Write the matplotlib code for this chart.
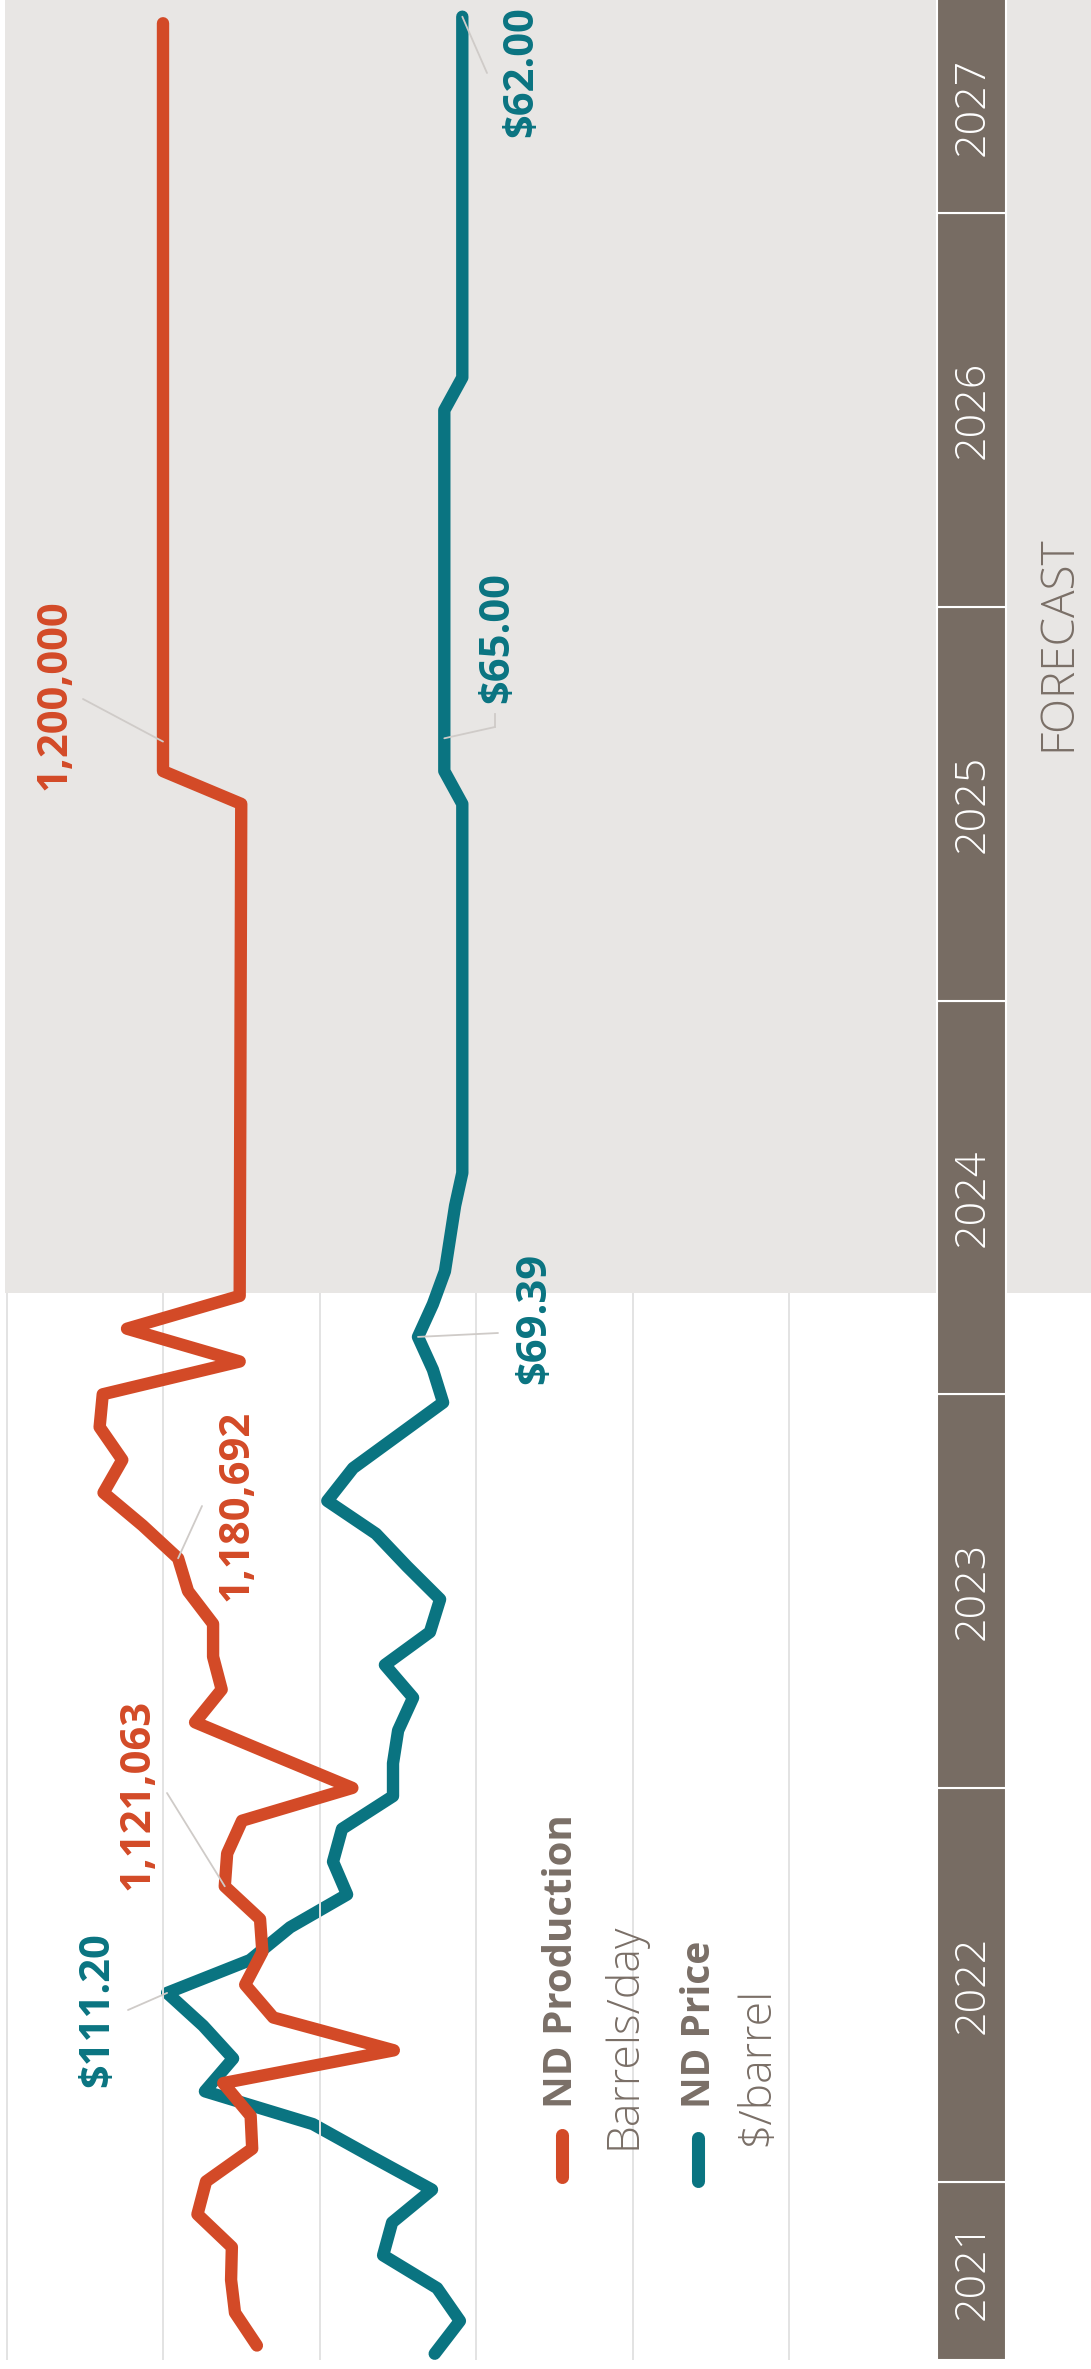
import matplotlib
matplotlib.use('Agg')
import matplotlib.pyplot as plt
from matplotlib.lines import Line2D
from matplotlib.patches import Rectangle

plt.rcParams['font.family'] = ['Open Sans', 'DejaVu Sans']

# time axis: months since Jan 2021 (0 = Jan 2021)
years = [2021, 2022, 2023, 2024, 2025, 2026, 2027]

# ND production, barrels/day (actuals Aug 2021 .. Apr 2024, then forecast)
prod_t = list(range(7, 40)) + [54, 55, 77.8]
prod = [1080000, 1108000, 1113000, 1112000, 1156000, 1145000, 1086000, 1088000,
        1123000, 905000, 1059000, 1095000, 1073000, 1076000, 1121063, 1118000,
        1099000, 958000, 1059000, 1159000, 1125000, 1136000, 1136000, 1168000,
        1180692, 1226000, 1276000, 1252000, 1281000, 1277000, 1102000, 1246000,
        1102000,
        1100000, 1200000, 1200000]

# ND price, $/barrel (monthly averages plotted about a week before month start)
price_t = [m - 0.25 for m in range(7, 44)] + [54, 55, 66, 67, 78]
price = [66.6, 62.4, 66.2, 75.2, 73.7, 67.05, 77.05, 86.9, 104.9, 100.2,
         105.2, 111.20, 97.4, 90.7, 81.2, 83.55, 82.05, 73.55, 73.55, 72.7,
         70.2, 74.9, 67.4, 65.7, 71.2, 76.4, 84.5, 80.2, 72.7, 65.2,
         66.9, 69.39, 66.9, 64.9, 64.05, 63.2, 62.0,
         62.0, 65.0, 65.0, 62.0, 62.0]

grid_vals = [1400000, 1200000, 1000000, 800000, 600000, 400000]
forecast_start = 39.1

ORANGE = '#d34a27'
TEAL = '#0a7481'
BROWN = '#776c63'
TXT = '#7a6f67'
GREY = '#e8e6e4'
LEAD = '#cfcbc8'

W, H = 1091, 2369
fig = plt.figure(figsize=(W / 100, H / 100), dpi=100)
fig.patch.set_facecolor('white')


def fx(x):
    return x / W


def fy(y):
    return 1 - y / H


# base axes = price, twin = production (drawn on top)
ax = fig.add_axes([0, 0, 1, 1])
ax.set_xlim(139.05, -42.78)
t_bot, t_top = 6.284, 78.509
ax.set_ylim(t_bot, t_top)
ax.set_axis_off()
ax2 = ax.twiny()
ax2.set_xlim(1408307, 14058)
ax2.set_ylim(t_bot, t_top)
ax2.set_axis_off()

# forecast shading
ax.axhspan(forecast_start, t_top + 1, xmin=5 / W, xmax=1, color=GREY, lw=0, zorder=0)

# year bar
bar_bot = 6.56
for yr in years:
    t0 = max(12 * (yr - 2021), bar_bot)
    t1 = 12 * (yr - 2020)
    ax.add_patch(Rectangle((937 / W, t0), 69 / W, t1 - t0, transform=ax.get_yaxis_transform(),
                           facecolor=BROWN, edgecolor='white', lw=1.5, zorder=2))
    tc = (t0 + min(t1, t_top)) / 2
    ax.text(972 / W, tc, str(yr), transform=ax.get_yaxis_transform(), rotation=90,
            ha='center', va='center', color='white', fontsize=31, fontweight='light', zorder=3)

fig.text(fx(1058), fy(643), 'FORECAST', rotation=90, ha='center', va='center',
         color=TXT, fontsize=33, fontweight='light')

# price line (below grid)
ax.plot(price, price_t, color=TEAL, lw=8.9, solid_capstyle='round',
        solid_joinstyle='round', zorder=3)

# grid + production line
ax2.vlines(grid_vals, bar_bot, forecast_start, color='#e3e3e3', lw=1.4, zorder=1)
ax2.plot(prod, prod_t, color=ORANGE, lw=8.9, solid_capstyle='round',
         solid_joinstyle='round', zorder=3)

# leaders
lead = dict(arrowstyle='-', color=LEAD, lw=1.3, shrinkA=0, shrinkB=0)
ax2.annotate('', xy=(1200000, 55.9), xytext=(fx(83), fy(699)), textcoords='figure fraction',
             arrowprops=lead, zorder=4)
ax2.annotate('', xy=(1180692, 31), xytext=(fx(202), fy(1506)), textcoords='figure fraction',
             arrowprops=lead, zorder=4)
ax2.annotate('', xy=(1121063, 21), xytext=(fx(167), fy(1793)), textcoords='figure fraction',
             arrowprops=lead, zorder=4)
ax2.annotate('', xy=(111.2, 17.75), xycoords=ax.transData, xytext=(fx(128), fy(2010)),
             textcoords='figure fraction', arrowprops=lead, zorder=4)
ax2.annotate('', xy=(69.39, 37.75), xycoords=ax.transData, xytext=(fx(498), fy(1333)),
             textcoords='figure fraction', arrowprops=lead, zorder=4)
ax2.annotate('', xy=(65.0, 56), xycoords=ax.transData, xytext=(fx(495), fy(727)),
             textcoords='figure fraction', arrowprops=lead, zorder=4)
fig.add_artist(Line2D([fx(495), fx(495)], [fy(727), fy(714)], color=LEAD, lw=1.3))
ax2.annotate('', xy=(62.0, 78), xycoords=ax.transData, xytext=(fx(487), fy(73)),
             textcoords='figure fraction', arrowprops=lead, zorder=4)

# value labels
lab = dict(rotation=90, ha='center', va='center', fontsize=30, fontweight='bold')
fig.text(fx(55), fy(695), '1,200,000', color=ORANGE, **lab)
fig.text(fx(237), fy(1505), '1,180,692', color=ORANGE, **lab)
fig.text(fx(138), fy(1794), '1,121,063', color=ORANGE, **lab)
fig.text(fx(98), fy(2010), '$111.20', color=TEAL, **lab)
fig.text(fx(535), fy(1318), '$69.39', color=TEAL, **lab)
fig.text(fx(498), fy(638), '$65.00', color=TEAL, **lab)
fig.text(fx(522), fy(72), '$62.00', color=TEAL, **lab)

# legend
fig.add_artist(Line2D([fx(562), fx(562)], [fy(2177), fy(2135)], color=ORANGE, lw=9.4,
                      solid_capstyle='round'))
fig.add_artist(Line2D([fx(698), fx(698)], [fy(2181), fy(2138)], color=TEAL, lw=9.4,
                      solid_capstyle='round'))
fig.text(fx(562), fy(2108), 'ND Production', rotation=90, ha='center', va='bottom',
         color=TXT, fontsize=29, fontweight='bold')
fig.text(fx(624), fy(2149), 'Barrels/day', rotation=90, ha='center', va='bottom',
         color=TXT, fontsize=32, fontweight='light')
fig.text(fx(699), fy(2108), 'ND Price', rotation=90, ha='center', va='bottom',
         color=TXT, fontsize=28, fontweight='bold')
fig.text(fx(757), fy(2146), '$/barrel', rotation=90, ha='center', va='bottom',
         color=TXT, fontsize=32, fontweight='light')

fig.savefig('out.png', dpi=100, facecolor='white')
